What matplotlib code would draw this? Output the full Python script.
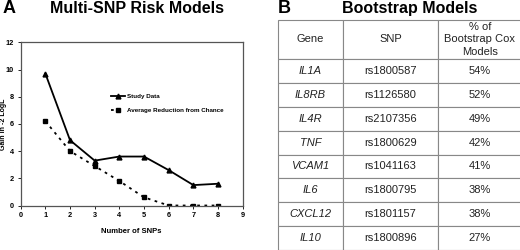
import matplotlib
matplotlib.use("Agg")
import matplotlib.pyplot as plt

plt.rcParams["font.family"] = ["Liberation Sans", "DejaVu Sans"]

# ─── DATA ────────────────────────────────────────────────────────────────────
n_snps = [1, 2, 3, 4, 5, 6, 7, 8]
study_gain = [9.7, 4.8, 3.3, 3.6, 3.6, 2.6, 1.5, 1.6]
chance_gain = [6.2, 4.0, 2.9, 1.8, 0.6, 0.0, 0.0, 0.0]
x_ticks = list(range(0, 10))
y_ticks = list(range(0, 13, 2))

genes = ["IL1A", "IL8RB", "IL4R", "TNF", "VCAM1", "IL6", "CXCL12", "IL10"]
snps = ["rs1800587", "rs1126580", "rs2107356", "rs1800629",
        "rs1041163", "rs1800795", "rs1801157", "rs1800896"]
pct_models = ["54%", "52%", "49%", "42%", "41%", "38%", "38%", "27%"]
col_labels = ["Gene", "SNP", "% of\nBootstrap Cox\nModels"]

W, H = 520, 250
fig = plt.figure(figsize=(W / 100, H / 100), dpi=100)

# ─── PANEL A: line chart ─────────────────────────────────────────────────────
ax = fig.add_axes([20.7 / W, 1 - 205.5 / H, (242.7 - 20.7) / W, (205.5 - 42.3) / H])
ax.plot(n_snps, study_gain, color="black", lw=1.3, marker="^", ms=3.5,
        label="Study Data")
ax.plot(n_snps, chance_gain, color="black", lw=1.3, ls=(0, (1.5, 2.5)),
        marker="s", ms=3, label="Average Reduction from Chance")
ax.set_xlim(0, 9)
ax.set_ylim(0, 12)
ax.set_xticks(x_ticks)
ax.set_yticks(y_ticks)
ax.tick_params(labelsize=5.3, length=2, width=0.6, pad=3)
for lbl in ax.get_xticklabels() + ax.get_yticklabels():
    lbl.set_fontweight("bold")
for sp in ax.spines.values():
    sp.set_color("#555555")
    sp.set_linewidth(0.9)
ax.set_xlabel("Number of SNPs", fontsize=5.5, fontweight="bold", labelpad=6)
ax.set_ylabel("Gain in -2 LogL", fontsize=5, fontweight="bold")
ax.yaxis.set_label_coords(-0.062, 0.5)
ax.legend(loc="center left", bbox_to_anchor=(0.407, 0.625), frameon=False,
          prop={"size": 4.5, "weight": "bold"}, handlelength=2.2,
          handletextpad=0.35, labelspacing=1.4, borderpad=0, borderaxespad=0)

fig.text(3 / W, 1 - 8.5 / H, "A", fontsize=13, fontweight="bold", va="center")
fig.text(137 / W, 1 - 8.5 / H, "Multi-SNP Risk Models", fontsize=11.5,
         fontweight="bold", ha="center", va="center")

# ─── PANEL B: table ──────────────────────────────────────────────────────────
fig.text(278 / W, 1 - 8.5 / H, "B", fontsize=13, fontweight="bold", va="center")
fig.text(409.5 / W, 1 - 8.5 / H, "Bootstrap Models", fontsize=11.5,
         fontweight="bold", ha="center", va="center")

tax = fig.add_axes([278 / W, 0, 244 / W, 1 - 20 / H])
tax.axis("off")
rows = [[g, s, p] for g, s, p in zip(genes, snps, pct_models)]
col_w = [65 / 244, 95 / 244, 84 / 244]
tbl = tax.table(cellText=rows, colLabels=col_labels, colWidths=col_w,
                cellLoc="center", bbox=[0, 0, 1, 1])
tbl.auto_set_font_size(False)
header_h = 39 / 230
row_h = (1 - header_h) / len(rows)
for (r, c), cell in tbl.get_celld().items():
    cell.set_edgecolor("#888888")
    cell.set_linewidth(0.8)
    cell.set_height(header_h if r == 0 else row_h)
    txt = cell.get_text()
    txt.set_fontsize(8)
    txt.set_color("#222222")
    if r > 0 and c == 0:
        txt.set_fontstyle("italic")
    if r == 0:
        txt.set_linespacing(1.3)

fig.savefig("out.png", dpi=100)
